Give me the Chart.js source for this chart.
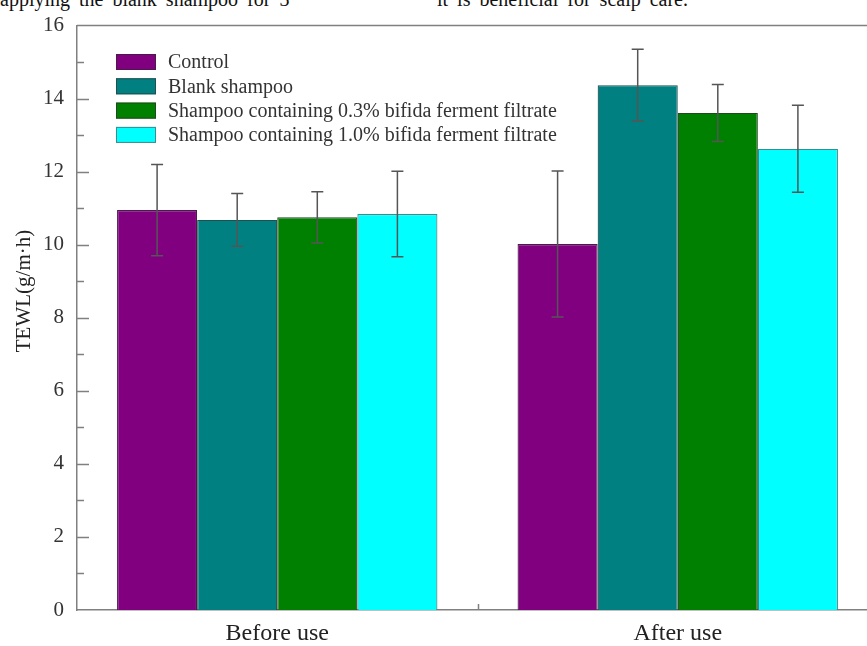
<!DOCTYPE html>
<html>
<head>
<meta charset="utf-8">
<script src="https://cdn.jsdelivr.net/npm/chart.js@4/dist/chart.umd.min.js"></script>
<style>
  html, body { margin: 0; padding: 0; background: #fff; overflow: hidden; width: 867px; height: 646px; }
  #wrap { position: relative; width: 867px; height: 646px; overflow: hidden; }
  #c { position: absolute; left: 0; top: 0; }
  .cap { position: absolute; top: -10px; font: 20px/19px "Liberation Serif", "Times New Roman", serif; color: #111; white-space: nowrap; }
</style>
</head>
<body>
<div id="wrap">
  <div class="cap" style="left:0; word-spacing:4px;">applying the blank shampoo for 3</div>
  <div class="cap" style="left:437px; word-spacing:4px;">it is beneficial for scalp care.</div>
  <canvas id="c" width="884" height="646"></canvas>
</div>
<script>
// Groups on the x axis
const categories = ['Before use', 'After use'];

// Series names
const seriesNames = [
  'Control',
  'Blank shampoo',
  'Shampoo containing 0.3% bifida ferment filtrate',
  'Shampoo containing 1.0% bifida ferment filtrate'
];

// TEWL means (g/m·h) and standard deviations per group
const controlMean = [10.95, 10.02];
const controlSD   = [1.25, 2.00];
const blankMean   = [10.68, 14.37];
const blankSD     = [0.72, 0.98];
const ferm03Mean  = [10.75, 13.61];
const ferm03SD    = [0.70, 0.78];
const ferm10Mean  = [10.84, 12.63];
const ferm10SD    = [1.17, 1.19];

// Y axis tick values
const yTicks = [0, 2, 4, 6, 8, 10, 12, 14, 16];

const SERIF = "'Liberation Serif', 'Times New Roman', serif";
const fills   = ['#800080', '#008080', '#008000', '#00ffff'];
const borders = ['#4a1a4a', '#1f4f4f', '#1e4a1e', '#3f8a8a'];

const means = [controlMean, blankMean, ferm03Mean, ferm10Mean];
const sds   = [controlSD, blankSD, ferm03SD, ferm10SD];

const datasets = seriesNames.map((name, i) => ({
  label: name,
  data: means[i],
  errors: sds[i],
  backgroundColor: fills[i],
  borderColor: borders[i],
  borderWidth: 1.2,
  categoryPercentage: 0.8,
  barPercentage: 1.0
}));

// Error bars, inner tick marks, frame, legend and y title
const decor = {
  id: 'decor',
  afterDatasetsDraw(chart) {
    const ctx = chart.ctx, ys = chart.scales.y;
    ctx.save();
    ctx.strokeStyle = '#555';
    ctx.lineWidth = 1.5;
    chart.data.datasets.forEach((ds, di) => {
      const meta = chart.getDatasetMeta(di);
      meta.data.forEach((bar, i) => {
        const v = ds.data[i], e = ds.errors[i];
        const yt = ys.getPixelForValue(v + e), yb = ys.getPixelForValue(v - e);
        const x = bar.x, cap = 6;
        ctx.beginPath();
        ctx.moveTo(x, yt); ctx.lineTo(x, yb);
        ctx.moveTo(x - cap, yt); ctx.lineTo(x + cap, yt);
        ctx.moveTo(x - cap, yb); ctx.lineTo(x + cap, yb);
        ctx.stroke();
      });
    });
    ctx.restore();
  },
  afterDraw(chart) {
    const ctx = chart.ctx, a = chart.chartArea, ys = chart.scales.y, xs = chart.scales.x;
    ctx.save();
    ctx.strokeStyle = '#808080';
    ctx.lineWidth = 1.5;
    // top frame line
    ctx.beginPath();
    ctx.moveTo(a.left, a.top); ctx.lineTo(a.right, a.top);
    ctx.stroke();
    // inward ticks on the y axis (major every 2, minor every 1)
    ctx.beginPath();
    for (let v = ys.min + 1; v < ys.max; v++) {
      const py = Math.round(ys.getPixelForValue(v)) + 0.5;
      const len = v % 2 === 0 ? 12 : 7;
      ctx.moveTo(a.left, py); ctx.lineTo(a.left + len, py);
    }
    // tick between the two groups on the x axis
    const mid = Math.round((xs.getPixelForValue(0) + xs.getPixelForValue(1)) / 2) + 0.5;
    ctx.moveTo(mid, a.bottom); ctx.lineTo(mid, a.bottom - 6);
    ctx.stroke();

    // legend
    const lx = 116, ly = 54, step = 24.3, bw = 40, bh = 16;
    ctx.font = '20px ' + SERIF;
    ctx.textBaseline = 'middle';
    ctx.textAlign = 'left';
    chart.data.datasets.forEach((ds, i) => {
      const y = ly + i * step;
      ctx.fillStyle = ds.backgroundColor;
      ctx.fillRect(lx, y, bw, bh);
      ctx.strokeStyle = ds.borderColor;
      ctx.lineWidth = 1;
      ctx.strokeRect(lx + 0.5, y + 0.5, bw - 1, bh - 1);
      ctx.fillStyle = '#333';
      ctx.fillText(ds.label, 168, y + bh / 2 + 1);
    });

    // y axis title
    ctx.translate(24, 291);
    ctx.rotate(-Math.PI / 2);
    ctx.font = '21px ' + SERIF;
    ctx.fillStyle = '#222';
    ctx.textAlign = 'center';
    ctx.textBaseline = 'middle';
    ctx.fillText('TEWL(g/m\u00b7h)', 0, 0);
    ctx.restore();
  }
};

new Chart(document.getElementById('c'), {
  type: 'bar',
  data: { labels: categories, datasets },
  options: {
    responsive: false,
    animation: false,
    devicePixelRatio: 1,
    layout: { padding: { top: 25, right: 6, bottom: 0, left: 0 } },
    plugins: { legend: { display: false }, tooltip: { enabled: false } },
    scales: {
      x: {
        grid: { display: false, drawTicks: false },
        border: { display: true, color: '#808080', width: 1.5 },
        ticks: { font: { family: SERIF, size: 24 }, color: '#222', padding: 9 },
        afterFit(s) { s.height = 36; }
      },
      y: {
        min: 0, max: 16,
        afterBuildTicks(s) { s.ticks = yTicks.map(v => ({ value: v })); },
        grid: { display: false, drawTicks: false },
        border: { display: true, color: '#808080', width: 1.5 },
        ticks: { font: { family: SERIF, size: 21 }, color: '#333', padding: 13 },
        afterFit(s) { s.width = 77; }
      }
    }
  },
  plugins: [decor]
});
</script>
</body>
</html>
